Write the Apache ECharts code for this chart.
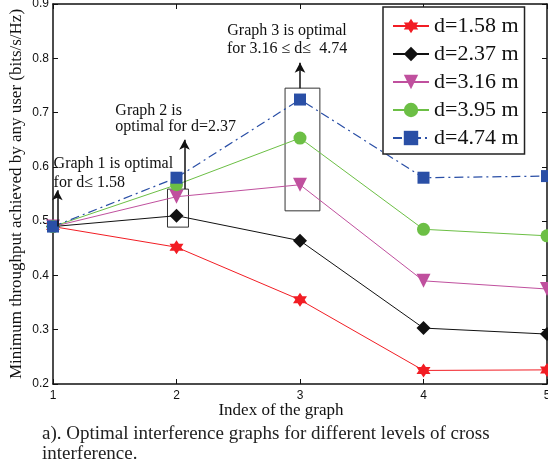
<!DOCTYPE html>
<html><head><meta charset="utf-8">
<script src="https://cdn.jsdelivr.net/npm/echarts@6/dist/echarts.min.js"></script>
<style>html,body{margin:0;padding:0;background:#fff}#c{width:548px;height:466px}</style>
</head><body><div id="c"></div>
<script>
const graphIndex = [1, 2, 3, 4, 5];
const d158 = [0.490, 0.452, 0.355, 0.225, 0.226];
const d237 = [0.490, 0.510, 0.464, 0.303, 0.292];
const d316 = [0.490, 0.545, 0.567, 0.390, 0.375];
const d395 = [0.490, 0.567, 0.653, 0.485, 0.473];
const d474 = [0.490, 0.580, 0.724, 0.580, 0.583];
const seriesNames = ['d=1.58 m', 'd=2.37 m', 'd=3.16 m', 'd=3.95 m', 'd=4.74 m'];
const yTicks = [0.2, 0.3, 0.4, 0.5, 0.6, 0.7, 0.8, 0.9];

const SERIF = '"Liberation Serif","Times New Roman",serif';
const SANS = '"Liberation Sans",Arial,sans-serif';
const star = 'path://M0,-10 L2.9,-5 L8.66,-5 L5.8,0 L8.66,5 L2.9,5 L0,10 L-2.9,5 L-8.66,5 L-5.8,0 L-8.66,-5 L-2.9,-5 Z';

function mk(name, vals, color, symbol, size, extra) {
  return Object.assign({
    name: name, type: 'line',
    data: graphIndex.map((x, i) => [x, vals[i]]),
    symbol: symbol, symbolSize: size,
    itemStyle: { color: color },
    lineStyle: { color: color, width: 1 },
    z: 3
  }, extra || {});
}

const chart = echarts.init(document.getElementById('c'));
const axisCommon = {
  axisLine: { show: true, lineStyle: { color: '#111', width: 1.5 } },
  axisTick: { show: true, inside: true, length: 5, lineStyle: { color: '#111', width: 1 } },
  splitLine: { show: false }
};
const annotText = { show: true, position: 'inside', verticalAlign: 'middle', fontFamily: SERIF, fontSize: 16, color: '#111' };
chart.setOption({
  animation: false,
  backgroundColor: '#fff',
  title: {
    text: 'a). Optimal interference graphs for different levels of cross\ninterference.',
    left: 37, top: 419,
    textStyle: { fontFamily: SERIF, fontWeight: 'normal', fontSize: 19, lineHeight: 20, color: '#222' }
  },
  grid: { left: 53, right: 1, top: 4, bottom: 82, show: false, containLabel: false, outerBoundsMode: 'none' },
  legend: {
    data: seriesNames,
    orient: 'vertical', left: 383, top: 7,
    padding: [8, 6, 5, 9],
    itemWidth: 36, itemHeight: 18, itemGap: 6,
    borderColor: '#222', borderWidth: 1.5, backgroundColor: '#fff',
    textStyle: { fontFamily: SERIF, fontSize: 22, color: '#111' }
  },
  xAxis: [
    Object.assign({
      type: 'value', min: 1, max: 5, interval: 1, position: 'bottom',
      name: 'Index of the graph', nameLocation: 'middle', nameGap: 18, nameMoveOverlap: false,
      nameTextStyle: { fontFamily: SERIF, fontSize: 17, color: '#111', padding: [0, 38, 0, 0] },
      axisLabel: { fontFamily: SANS, fontSize: 12, color: '#111', margin: 6 }
    }, axisCommon),
    Object.assign({
      type: 'value', min: 1, max: 5, interval: 1, position: 'top',
      axisLabel: { show: false }
    }, axisCommon)
  ],
  yAxis: [
    Object.assign({
      type: 'value', min: yTicks[0], max: yTicks[yTicks.length - 1], interval: 0.1,
      name: 'Minimum throughput achieved by any user (bits/s/Hz)', nameLocation: 'middle', nameGap: 28, nameMoveOverlap: false,
      nameTextStyle: { fontFamily: SERIF, fontSize: 17, color: '#111' },
      axisLabel: { fontFamily: SANS, fontSize: 12, color: '#111', margin: 4, formatter: v => v.toFixed(1) }
    }, axisCommon),
    Object.assign({
      type: 'value', min: yTicks[0], max: yTicks[yTicks.length - 1], interval: 0.1, position: 'right',
      axisLabel: { show: false }
    }, axisCommon)
  ],
  series: [
    mk(seriesNames[0], d158, '#f21d24', star, 14),
    mk(seriesNames[1], d237, '#111111', 'diamond', 14),
    mk(seriesNames[2], d316, '#c0509e', 'path://M-10,-8 L10,-8 L0,9 Z', 14),
    mk(seriesNames[3], d395, '#6cbf45', 'circle', 13),
    mk(seriesNames[4], d474, '#2a4fa6', 'rect', 12, { lineStyle: { color: '#2a4fa6', width: 1.2, type: [9, 4, 2, 4] } }),
    {
      name: 'annot', type: 'line', data: [], z: 5, silent: true,
      markArea: {
        silent: true,
        itemStyle: { color: 'rgba(0,0,0,0)', borderColor: '#333', borderWidth: 1 },
        label: { show: false },
        data: [
          [{ coord: [1.927, 0.559] }, { coord: [2.097, 0.489] }],
          [{ coord: [2.879, 0.745] }, { coord: [3.161, 0.519] }]
        ]
      },
      markLine: {
        silent: true, symbol: ['none', 'arrow'], symbolSize: [8, 10],
        lineStyle: { color: '#111', width: 1.5, type: 'solid' },
        label: { show: false },
        data: [
          [{ coord: [1.035, 0.49] }, { coord: [1.035, 0.557] }],
          [{ coord: [2.065, 0.559] }, { coord: [2.065, 0.650] }],
          [{ coord: [3.0, 0.745] }, { coord: [3.0, 0.792] }]
        ]
      },
      markPoint: {
        silent: true, symbol: 'circle', symbolSize: 0,
        data: [
          { coord: [1.005, 0.589], label: Object.assign({}, annotText, { align: 'left', lineHeight: 19, formatter: 'Graph 1 is optimal\nfor d\u2264 1.58' }) },
          { coord: [1.505, 0.688], label: Object.assign({}, annotText, { align: 'left', lineHeight: 16, formatter: 'Graph 2 is\noptimal for d=2.37' }) },
          { coord: [2.895, 0.834], label: Object.assign({}, annotText, { align: 'center', lineHeight: 18, formatter: 'Graph 3 is optimal\nfor 3.16 \u2264 d\u2264  4.74' }) }
        ]
      }
    }
  ]
});
</script></body></html>
